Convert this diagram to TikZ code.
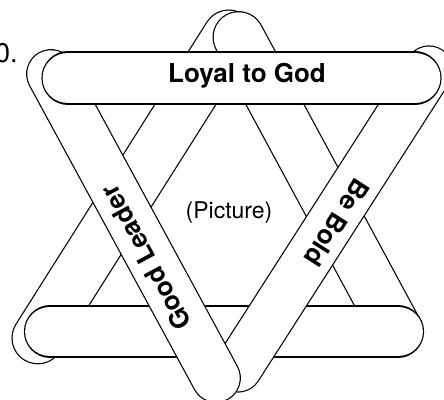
\documentclass[tikz,border=0pt]{standalone}
\usepackage{fontspec}
\setmainfont{TeX Gyre Heros}
\newcommand\drawstick[3]{%
  \draw[stickedge, line width=2*#3+1.2pt] #1 -- #2;
  \draw[stickfill, line width=2*#3-1.2pt] #1 -- #2;}
\begin{document}
\begin{tikzpicture}[x=1pt,y=-1pt,
  stickedge/.style={draw=black, line cap=round},
  stickfill/.style={draw=white, line cap=round},
  sticklabel/.style={font=\fontsize{26}{30}\selectfont\bfseries, inner sep=0pt},
  plainlabel/.style={font=\fontsize{23}{27}\selectfont, inner sep=0pt}]
\useasboundingbox (0,0) rectangle (444,399);
\clip (0,0) rectangle (444,399);
\fill[white] (0,0) rectangle (444,399);
% upward triangle, left stick
\drawstick{(37.8,338)}{(228.8,35.8)}{25.75pt}
% upward triangle, right stick
\drawstick{(238.6,37.2)}{(396.7,330)}{25.5pt}
% bottom stick
\drawstick{(50,331.5)}{(398,331.5)}{25.5pt}
% Be Bold stick
\drawstick{(238,368)}{(429,70)}{24pt}
% Good Leader stick
\drawstick{(216,378)}{(51,74)}{24.3pt}
% Loyal to God stick
\drawstick{(68,78)}{(415,78)}{26pt}
\node[sticklabel, anchor=base] (loyal) at (247,82) {Loyal to God};
\node[sticklabel, rotate=118.5] (good) at (146,258) {Good Leader};
\node[sticklabel, rotate=-122.6] (bold) at (337,223) {Be Bold};
\node[plainlabel, anchor=base] (pic) at (229,218) {(Picture)};
\node[font=\fontsize{27}{31}\selectfont, inner sep=0pt, anchor=base west] (num) at (-5,62) {0.};
\end{tikzpicture}
\end{document}
